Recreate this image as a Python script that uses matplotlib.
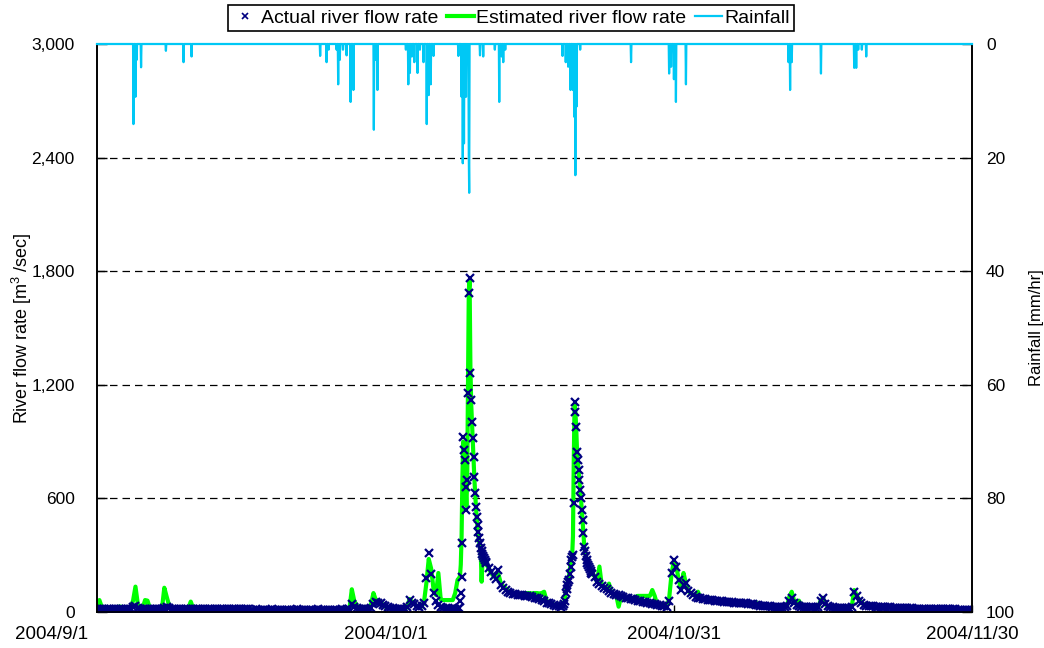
import numpy as np
import matplotlib
matplotlib.use("Agg")
import matplotlib.pyplot as plt
from matplotlib.lines import Line2D
from matplotlib.ticker import FuncFormatter
from matplotlib.transforms import ScaledTranslation

# ---- data (hours counted from 2004/9/1 00:00) ----
# sampling: 6 h normally, 2 h around the two big floods
hour_segments = [(0, 900, 6), (900, 972, 2), (972, 1164, 6), (1164, 1236, 2), (1236, 2190, 6)]

# actual river flow rate [m3/sec]
actual_seg1 = [
    18, 17, 17, 16, 16, 16, 15, 15, 15, 15, 15, 15, 15, 15, 18, 25,   # 9/1 - 9/4
    30, 20, 18, 17, 16, 16, 16, 15, 15, 15, 15, 15, 20, 28, 20, 17,   # 9/5 - 9/8
    16, 15, 15, 15, 15, 15, 16, 18, 16, 15, 15, 14,                   # 9/9 - 9/11
    14, 14, 14, 14, 14, 14, 14, 14, 14, 14, 14, 14, 14, 14, 14, 14,   # 9/12 - 9/15
    14, 14, 14, 14,
    13, 13, 14, 13, 13, 13, 13, 13, 13, 14, 13, 13, 13, 13, 13, 13,   # 9/17 - 9/20
    13, 13, 13, 14, 13, 13, 13, 13, 13, 13, 13, 13, 14, 13, 13, 13,   # 9/21 - 9/24
    13, 13, 13, 13, 13, 13, 14, 13,                                   # 9/25 - 9/26
    14, 15, 42, 25, 20, 17, 16, 15, 15, 15, 20, 40, 55, 50, 45, 38,   # 9/27 - 9/30
    30, 25, 22, 20, 18, 17, 17, 16, 16, 25, 63, 50, 40, 30, 25, 30,   # 10/1 - 10/4
    48, 180, 310, 200, 100, 60, 35, 28, 22, 20, 19, 18, 18, 18,      # 10/5 - 10/8
]
actual_seg2 = [
    18, 18, 19, 60, 100, 186, 364, 926, 856, 803, 662, 539,
    697, 1155, 1683, 1762, 1262, 1120, 1005, 917, 820, 715, 627, 556,
    500, 460, 420, 390, 363, 340, 320, 305, 295, 285, 275, 265,
]
actual_seg3 = [
    260, 235, 210, 190, 175, 222, 140, 128, 118, 108, 100, 96,
    94, 92, 90, 88, 86, 85, 84, 80, 76, 72, 68, 62,
    56, 50, 46, 42, 38, 34, 30, 28,
]
actual_seg4 = [
    30, 40, 60, 100, 120, 140, 160, 169, 200, 240, 275, 292,
    300, 574, 1111, 1058, 979, 847, 803, 750, 697, 644, 600, 539,
    486, 416, 345, 320, 295, 275, 260, 250, 240, 225, 215, 204,
]
actual_seg5 = [
    200, 185,
    160, 150, 135, 128, 120, 110, 102, 96, 92, 88, 84, 80, 76, 72, 70, 68,   # 10/23 - 10/26
    64, 60, 58, 55, 52, 48, 45, 42, 40, 37, 35, 33, 30, 28, 60, 206,         # 10/27 - 10/30
    275, 239, 169, 116, 140, 152, 110, 100, 88, 80, 76, 74, 70, 68, 66, 64,  # 10/31 - 11/3
    62, 60, 59, 58, 56, 55, 54, 52, 51, 50, 49, 48, 47, 46, 45, 44,          # 11/4 - 11/7
    42, 40, 38, 36, 34, 33, 32, 31, 30, 29, 28, 27, 26, 26, 25, 30,          # 11/8 - 11/11
    60, 72, 45, 35, 30, 28, 27, 26, 25, 24, 24, 23, 24, 60, 72, 40,          # 11/12 - 11/15
    30, 26, 24, 23, 22, 22, 21, 21, 21, 21, 25, 107, 85, 60, 45, 38,         # 11/16 - 11/19
    34, 32, 31, 30, 29, 28, 27, 26, 25, 24, 24, 23, 22, 22, 21, 21,          # 11/20 - 11/23
    20, 20, 19, 19, 18, 18, 18, 17, 17, 17, 16, 16, 16, 15, 15, 15,          # 11/24 - 11/27
    15, 14, 14, 14, 14, 14, 13, 13, 13, 13, 13, 12, 12,                      # 11/28 - 12/1
]

# estimated river flow rate [m3/sec]
est_seg1 = [
    22, 63, 25, 18, 16, 16, 15, 15, 15, 28, 28, 16, 15, 16, 25, 60,
    134, 40, 25, 20, 63, 60, 20, 16, 15, 15, 15, 15, 128, 80, 35, 20,
    17, 15, 15, 15, 15, 15, 20, 55, 20, 16, 15, 14,
    14, 14, 14, 14, 14, 14, 14, 14, 14, 14, 14, 14, 14, 14, 14, 14,
    14, 14, 14, 14,
    13, 13, 13, 13, 13, 13, 13, 13, 13, 13, 13, 13, 13, 13, 13, 13,
    13, 13, 13, 13, 13, 13, 13, 13, 13, 13, 13, 13, 13, 13, 13, 13,
    13, 13, 13, 13, 13, 13, 13, 13,
    14, 15, 120, 60, 35, 25, 18, 16, 16, 16, 40, 100, 63, 60, 55, 35,
    28, 25, 22, 20, 18, 17, 17, 16, 16, 25, 69, 55, 45, 30, 25, 28,
    50, 150, 280, 230, 120, 90, 206, 65, 63, 63, 63, 63, 63, 100,
]
est_seg2 = [
    170, 175, 180, 190, 250, 400, 700, 900, 880, 800, 650, 560,
    700, 1200, 1700, 1750, 1300, 1100, 1000, 900, 800, 700, 620, 550,
    490, 440, 400, 370, 340, 300, 160, 260, 280, 275, 265, 255,
]
est_seg3 = [
    250, 230, 205, 190, 180, 200, 150, 135, 125, 115, 108, 102,
    98, 95, 92, 95, 100, 100, 100, 98, 100, 100, 98, 100,
    107, 60, 50, 45, 40, 35, 32, 30,
]
est_seg4 = [
    30, 45, 70, 110, 130, 150, 170, 190, 220, 250, 280, 300,
    400, 800, 1100, 1060, 980, 860, 800, 750, 700, 640, 600, 540,
    480, 420, 350, 320, 300, 280, 265, 250, 240, 230, 215, 205,
]
est_seg5 = [
    200, 190,
    160, 240, 140, 130, 118, 150, 100, 95, 88, 28, 82, 78, 74, 70, 68, 66,
    80, 85, 85, 85, 85, 85, 85, 116, 85, 40, 36, 34, 30, 28, 70, 200,
    270, 240, 170, 120, 206, 150, 110, 100, 90, 85, 107, 74, 68, 66, 64, 74,
    60, 58, 57, 56, 54, 53, 52, 50, 49, 48, 47, 46, 45, 44, 44, 42,
    40, 38, 53, 35, 33, 32, 31, 30, 29, 28, 27, 26, 25, 25, 25, 30,
    80, 107, 60, 40, 60, 35, 28, 26, 24, 24, 23, 23, 24, 60, 75, 40,
    30, 25, 24, 23, 22, 22, 21, 21, 21, 21, 30, 116, 90, 65, 50, 40,
    35, 32, 30, 29, 28, 27, 26, 25, 25, 24, 23, 23, 22, 22, 21, 21,
    20, 20, 19, 19, 18, 18, 18, 17, 17, 17, 16, 16, 16, 15, 15, 15,
    15, 14, 14, 14, 14, 14, 13, 13, 13, 13, 13, 12, 12,
]

# rainfall [mm/hr], only the hours with rain
rain_hour = [91, 96, 99, 110, 172, 216, 236, 557, 573, 578, 598, 602, 606, 614,
             623, 633, 640, 691, 696, 700, 771, 777, 781, 786, 792, 800, 806, 815,
             823, 828, 833, 840, 902, 910, 913, 916, 921, 924, 928, 929, 956, 964,
             993, 1004, 1010, 1014, 1019, 1162, 1170, 1176, 1182, 1188, 1191, 1194,
             1197, 1206, 1333, 1428, 1433, 1440, 1445, 1470, 1726, 1730, 1734, 1807,
             1890, 1895, 1900, 1909, 1920]
rain_mm = [14.1, 9.3, 2.8, 4.1, 1.2, 3.2, 2.2, 2.1, 3.2, 1.0, 1.0, 7.1, 2.8, 1.0,
           2.0, 10.2, 8.1, 15.1, 2.8, 8.1, 1.0, 7.1, 5.1, 2.2, 3.2, 5.1, 1.0, 3.2,
           14.1, 9.0, 7.1, 2.1, 2.1, 9.3, 21.0, 17.5, 9.3, 1.0, 19.8, 26.2, 2.0, 2.2,
           1.0, 10.2, 2.2, 3.2, 1.0, 2.1, 3.2, 4.0, 8.1, 8.1, 12.8, 23.1,
           11.0, 1.0, 3.2, 5.2, 4.0, 6.2, 10.2, 7.1, 3.2, 8.1, 3.2, 5.2,
           4.2, 4.2, 1.0, 1.0, 2.2]

x_tick_days = [0, 30, 60, 91]
x_tick_labels = ["2004/9/1", "2004/10/1", "2004/10/31", "2004/11/30"]
labels = ["Actual river flow rate", "Estimated river flow rate", "Rainfall"]

plt.rcParams["font.family"] = ["Liberation Sans", "DejaVu Sans"]
plt.rcParams["mathtext.default"] = "regular"

hours = np.concatenate([np.arange(a, b, s) for a, b, s in hour_segments])
actual = np.array(actual_seg1 + actual_seg2 + actual_seg3 + actual_seg4 + actual_seg5, dtype=float)
est = np.array(est_seg1 + est_seg2 + est_seg3 + est_seg4 + est_seg5, dtype=float)
days = hours / 24.0

rain = np.zeros(2185)
rain[rain_hour] = rain_mm
rain_days = np.arange(2185) / 24.0

fig = plt.figure(figsize=(10.44, 6.48), dpi=100)
ax = fig.add_axes([97 / 1044, 36 / 648, 875 / 1044, 568 / 648])
ax2 = ax.twinx()

ax.plot(days, est, color="#00FF00", lw=3, zorder=2)
ax.plot(days, actual, ls="none", marker="x", ms=6, mew=1.6, color="#000080", zorder=3)
ax2.plot(rain_days, rain, color="#00C8F5", lw=1.6, zorder=3, clip_on=False)

ax.set_xlim(0, 91)
ax.set_ylim(0, 3000)
ax2.set_ylim(100, 0)

ax.set_yticks(range(0, 3001, 600))
ax.yaxis.set_major_formatter(FuncFormatter(lambda v, p: f"{v:,.0f}"))
ax2.set_yticks(range(0, 101, 20))
ax.set_xticks(x_tick_days)
ax.set_xticklabels(x_tick_labels)

for v in range(600, 3000, 600):
    ax.axhline(v, color="black", lw=0.9, ls=(0, (6, 4)), zorder=1)

ax.tick_params(axis="y", direction="in", length=7, width=1, labelsize=12.5, pad=16)
ax2.tick_params(axis="y", direction="in", length=7, width=1, labelsize=12.5, pad=10)
ax.tick_params(axis="x", direction="in", length=5, width=1, labelsize=13.5, pad=10)
first = ax.get_xticklabels()[0]
first.set_ha("right")
first.set_transform(first.get_transform() + ScaledTranslation(-0.09, 0, fig.dpi_scale_trans))
for a in (ax, ax2):
    for s in a.spines.values():
        s.set_linewidth(1.2)

ax.set_ylabel("River flow rate [m$^3$ /sec]", fontsize=13)
ax.yaxis.set_label_coords((34 - 97) / 875, 0.5)
ax2.set_ylabel("Rainfall [mm/hr]", fontsize=12)
ax2.yaxis.set_label_coords((1029 - 97) / 875, 0.5)

handles = [
    Line2D([], [], ls="none", marker="x", ms=5, mew=1.2, color="#000080"),
    Line2D([], [], color="#00FF00", lw=3),
    Line2D([], [], color="#00C8F5", lw=1.6),
]
leg = fig.legend(handles, labels, loc="center", bbox_to_anchor=(511 / 1044, 1 - 18 / 648),
                 ncol=3, fontsize=14, frameon=True, fancybox=False, edgecolor="black",
                 framealpha=1, handlelength=1.35, handletextpad=0.15, columnspacing=0.45,
                 borderpad=0.2)
leg.get_frame().set_linewidth(1.2)

fig.savefig("out.png", dpi=100)
